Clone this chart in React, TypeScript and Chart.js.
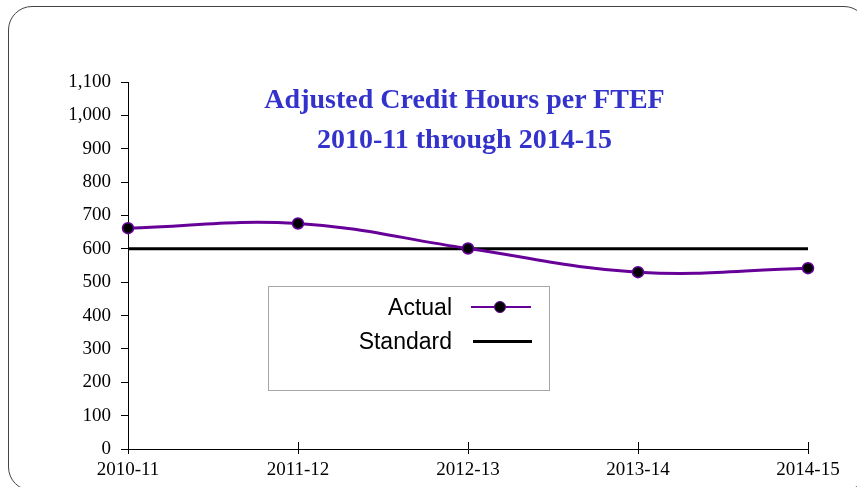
import React, { useEffect, useRef } from "react";
import { Chart, registerables } from "chart.js";

Chart.register(...registerables);

const categories = ["2010-11", "2011-12", "2012-13", "2013-14", "2014-15"];
const actualValues = [662, 676, 601, 530, 542];
const standardValues = [600, 600, 600, 600, 600];
const yMin = 0;
const yMax = 1100;
const yStep = 100;
const titleLines = ["Adjusted Credit Hours per FTEF", "2010-11 through 2014-15"];
const seriesNames = ["Actual", "Standard"];

const PURPLE = "#660099";
const SERIF = "'Liberation Serif', 'Times New Roman', serif";
const SANS = "'Liberation Sans', Arial, sans-serif";

const upTicks = {
  id: "upTicks",
  afterDraw(chart: any) {
    const xs = chart.scales.x;
    const ctx = chart.ctx;
    const bottom = chart.chartArea.bottom;
    ctx.save();
    ctx.strokeStyle = "#000";
    ctx.lineWidth = 1;
    xs.ticks.forEach((_t: any, i: number) => {
      const px = Math.round(xs.getPixelForTick(i)) + 0.5;
      ctx.beginPath();
      ctx.moveTo(px, bottom - 7);
      ctx.lineTo(px, bottom);
      ctx.stroke();
    });
    ctx.restore();
  },
};

export default function App() {
  const ref = useRef<HTMLCanvasElement | null>(null);

  useEffect(() => {
    if (!ref.current) return;
    const chart = new Chart(ref.current, {
      type: "line",
      data: {
        labels: categories,
        datasets: [
          {
            label: seriesNames[0],
            data: actualValues,
            borderColor: PURPLE,
            borderWidth: 3,
            tension: 0.4,
            pointRadius: 5.5,
            pointBackgroundColor: "#000",
            pointBorderColor: PURPLE,
            pointBorderWidth: 1.5,
            clip: false,
          } as any,
          {
            label: seriesNames[1],
            data: standardValues,
            borderColor: "#000",
            borderWidth: 3,
            tension: 0,
            pointRadius: 0,
            clip: false,
          } as any,
        ],
      },
      options: {
        responsive: false,
        animation: false,
        devicePixelRatio: 1,
        layout: { padding: { top: 82, right: 49, left: 0, bottom: 0 } },
        plugins: {
          legend: { display: false },
          title: { display: false },
          tooltip: { enabled: false },
        },
        scales: {
          x: {
            type: "category",
            offset: false,
            grid: {
              drawOnChartArea: false,
              tickLength: 5,
              color: "#000",
              tickColor: "#000",
            },
            border: { color: "#000", width: 1 },
            ticks: {
              color: "#000",
              font: { family: SERIF, size: 19 },
              padding: 5,
              maxRotation: 0,
              autoSkip: false,
            },
            afterFit: (s: any) => {
              s.height = 38;
            },
          },
          y: {
            min: yMin,
            max: yMax,
            grid: {
              drawOnChartArea: false,
              tickLength: 7,
              color: "#000",
              tickColor: "#000",
            },
            border: { color: "#000", width: 1 },
            ticks: {
              stepSize: yStep,
              color: "#000",
              font: { family: SERIF, size: 19 },
              padding: 10,
              callback: (v: any) => Number(v).toLocaleString("en-US"),
            },
            afterFit: (s: any) => {
              s.width = 128;
            },
          },
        },
      },
      plugins: [upTicks],
    });
    return () => chart.destroy();
  }, []);

  return (
    <div
      style={{
        position: "fixed",
        left: 0,
        top: 0,
        width: 857,
        height: 487,
        background: "#fff",
        overflow: "hidden",
      }}
    >
      <div
        style={{
          position: "absolute",
          left: 8,
          top: 6,
          width: 860,
          height: 485,
          border: "1.5px solid #444",
          borderRadius: 24,
          boxSizing: "border-box",
        }}
      />
      <canvas
        ref={ref}
        width={857}
        height={487}
        style={{ position: "absolute", left: 0, top: 0, width: 857, height: 487 }}
      />
      <div
        style={{
          position: "absolute",
          left: 64.5,
          top: 79,
          width: 800,
          textAlign: "center",
          fontFamily: SERIF,
          fontWeight: "bold",
          fontSize: 28,
          lineHeight: "40px",
          color: "#3333CC",
          whiteSpace: "nowrap",
        }}
      >
        {titleLines.map((t) => (
          <div key={t}>{t}</div>
        ))}
      </div>
      <div
        style={{
          position: "absolute",
          left: 268,
          top: 286,
          width: 282,
          height: 105,
          border: "1.5px solid #A6A6A6",
          boxSizing: "border-box",
          background: "#fff",
        }}
      />
      <div
        style={{
          position: "absolute",
          left: 252,
          top: 295.5,
          width: 200,
          textAlign: "right",
          fontFamily: SANS,
          fontSize: 23,
          lineHeight: "23px",
          color: "#000",
        }}
      >
        {seriesNames[0]}
      </div>
      <div
        style={{
          position: "absolute",
          left: 252,
          top: 329.5,
          width: 200,
          textAlign: "right",
          fontFamily: SANS,
          fontSize: 23,
          lineHeight: "23px",
          color: "#000",
        }}
      >
        {seriesNames[1]}
      </div>
      <div
        style={{
          position: "absolute",
          left: 471,
          top: 306,
          width: 60,
          height: 1.5,
          background: PURPLE,
        }}
      />
      <div
        style={{
          position: "absolute",
          left: 494,
          top: 301,
          width: 12,
          height: 12,
          borderRadius: "50%",
          background: "#000",
          border: `1.5px solid ${PURPLE}`,
          boxSizing: "border-box",
        }}
      />
      <div
        style={{
          position: "absolute",
          left: 473,
          top: 339.5,
          width: 59,
          height: 3,
          background: "#000",
        }}
      />
    </div>
  );
}
